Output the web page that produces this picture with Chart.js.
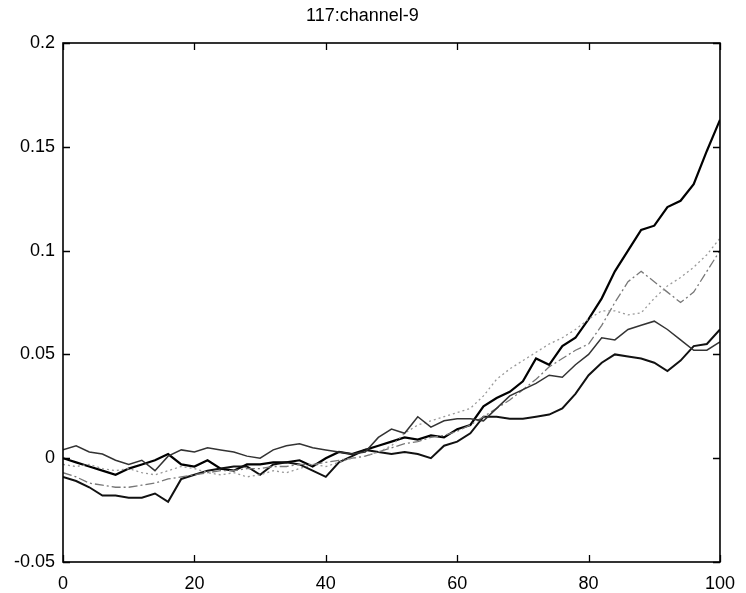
<!DOCTYPE html>
<html>
<head>
<meta charset="utf-8">
<script src="https://cdn.jsdelivr.net/npm/chart.js@4/dist/chart.umd.min.js"></script>
<style>
  html, body { margin: 0; padding: 0; background: #fff; }
  #c { display: block; }
</style>
</head>
<body>
<canvas id="c" width="746" height="593"></canvas>
<script>
const chartTitle = "117:channel-9";
const xValues = [0,2,4,6,8,10,12,14,16,18,20,22,24,26,28,30,32,34,36,38,40,42,44,46,48,50,52,54,56,58,60,62,64,66,68,70,72,74,76,78,80,82,84,86,88,90,92,94,96,98,100];
const xTickValues = [0, 20, 40, 60, 80, 100];
const yTickValues = [-0.05, 0, 0.05, 0.1, 0.15, 0.2];
const yTickLabels = ["-0.05", "0", "0.05", "0.1", "0.15", "0.2"];

// thick solid black (ends highest)
const seriesA = [0.000,-0.002,-0.004,-0.006,-0.008,-0.005,-0.003,-0.001,0.002,-0.003,-0.004,-0.001,-0.005,-0.006,-0.003,-0.003,-0.002,-0.002,-0.001,-0.004,0.000,0.003,0.002,0.004,0.006,0.008,0.010,0.009,0.011,0.010,0.014,0.016,0.025,0.029,0.032,0.037,0.048,0.045,0.054,0.058,0.067,0.077,0.090,0.100,0.110,0.112,0.121,0.124,0.132,0.148,0.163];
// dash-dot gray (peak near 88)
const seriesB = [-0.007,-0.009,-0.012,-0.013,-0.014,-0.014,-0.013,-0.012,-0.010,-0.009,-0.008,-0.007,-0.006,-0.006,-0.005,-0.005,-0.004,-0.004,-0.003,-0.003,-0.002,-0.001,0.000,0.001,0.003,0.005,0.007,0.008,0.010,0.011,0.013,0.016,0.020,0.024,0.028,0.033,0.038,0.044,0.048,0.052,0.055,0.064,0.075,0.085,0.090,0.085,0.080,0.075,0.080,0.090,0.100];
// dotted light gray
const seriesC = [-0.003,-0.004,-0.003,-0.005,-0.006,-0.005,-0.007,-0.008,-0.006,-0.004,-0.005,-0.007,-0.008,-0.007,-0.009,-0.008,-0.006,-0.007,-0.005,-0.003,-0.004,-0.002,0.000,0.001,0.003,0.006,0.012,0.016,0.018,0.020,0.022,0.024,0.030,0.038,0.043,0.047,0.051,0.055,0.058,0.062,0.067,0.071,0.071,0.069,0.070,0.077,0.083,0.087,0.092,0.098,0.106];
// solid black, lowest at left
const seriesD = [-0.009,-0.011,-0.014,-0.018,-0.018,-0.019,-0.019,-0.017,-0.021,-0.010,-0.008,-0.006,-0.005,-0.004,-0.004,-0.008,-0.003,-0.002,-0.003,-0.006,-0.009,-0.002,0.001,0.004,0.003,0.002,0.003,0.002,0.000,0.006,0.008,0.012,0.020,0.020,0.019,0.019,0.020,0.021,0.024,0.031,0.040,0.046,0.050,0.049,0.048,0.046,0.042,0.047,0.054,0.055,0.062];
// solid dark gray, highest at left
const seriesE = [0.004,0.006,0.003,0.002,-0.001,-0.003,-0.001,-0.006,0.001,0.004,0.003,0.005,0.004,0.003,0.001,0.000,0.004,0.006,0.007,0.005,0.004,0.003,0.002,0.003,0.010,0.014,0.012,0.020,0.015,0.018,0.019,0.019,0.018,0.024,0.030,0.033,0.036,0.040,0.039,0.045,0.050,0.058,0.057,0.062,0.064,0.066,0.062,0.057,0.052,0.052,0.056];

function pts(arr) { return arr.map((v, i) => ({ x: xValues[i], y: v })); }

const frameAndTicks = {
  id: 'frameAndTicks',
  afterDraw(chart) {
    const ctx = chart.ctx;
    const a = chart.chartArea;
    const xs = chart.scales.x, ys = chart.scales.y;
    ctx.save();
    ctx.strokeStyle = '#000';
    ctx.lineWidth = 1.6;
    ctx.strokeRect(a.left, a.top, a.right - a.left, a.bottom - a.top);
    ctx.lineWidth = 1.3;
    const L = 7;
    ctx.beginPath();
    xTickValues.forEach(v => {
      const px = Math.round(xs.getPixelForValue(v)) + 0.5;
      ctx.moveTo(px, a.bottom); ctx.lineTo(px, a.bottom - L);
      ctx.moveTo(px, a.top); ctx.lineTo(px, a.top + L);
    });
    yTickValues.forEach(v => {
      const py = Math.round(ys.getPixelForValue(v)) + 0.5;
      ctx.moveTo(a.left, py); ctx.lineTo(a.left + L, py);
      ctx.moveTo(a.right, py); ctx.lineTo(a.right - L, py);
    });
    ctx.stroke();
    ctx.restore();
  }
};

const font = { family: "'Liberation Sans', Arial, sans-serif", size: 18 };

new Chart(document.getElementById('c'), {
  type: 'line',
  data: {
    datasets: [
      { label: 'E', data: pts(seriesE), borderColor: '#333', borderWidth: 1.5 },
      { label: 'C', data: pts(seriesC), borderColor: '#999', borderWidth: 1.3, borderDash: [2, 3] },
      { label: 'B', data: pts(seriesB), borderColor: '#777', borderWidth: 1.3, borderDash: [9, 3, 2, 3] },
      { label: 'D', data: pts(seriesD), borderColor: '#111', borderWidth: 2 },
      { label: 'A', data: pts(seriesA), borderColor: '#000', borderWidth: 2.2 }
    ]
  },
  options: {
    responsive: false,
    animation: false,
    parsing: true,
    elements: { point: { radius: 0 }, line: { tension: 0, fill: false } },
    layout: { padding: { left: 0, right: 21, top: 0, bottom: 0 } },
    plugins: {
      legend: { display: false },
      tooltip: { enabled: false },
      title: {
        display: true,
        text: chartTitle,
        color: '#000',
        font: { family: font.family, size: 18, weight: 'normal' },
        padding: { top: 5, bottom: 16.4 }
      }
    },
    scales: {
      x: {
        type: 'linear',
        min: 0, max: 100,
        afterBuildTicks(scale) { scale.ticks = xTickValues.map(v => ({ value: v })); },
        afterFit(scale) { scale.height = 31; },
        grid: { display: false, drawTicks: false },
        border: { display: false },
        ticks: { color: '#000', font: font, padding: 11, maxRotation: 0, autoSkip: false,
                 callback: (v) => String(v) }
      },
      y: {
        type: 'linear',
        min: -0.05, max: 0.2,
        afterBuildTicks(scale) { scale.ticks = yTickValues.map(v => ({ value: v })); },
        afterFit(scale) { scale.width = 63; },
        grid: { display: false, drawTicks: false },
        border: { display: false },
        ticks: { color: '#000', font: font, padding: 8, autoSkip: false,
                 callback: (v) => { const i = yTickValues.findIndex(t => Math.abs(t - v) < 1e-9); return i >= 0 ? yTickLabels[i] : ''; } }
      }
    }
  },
  plugins: [frameAndTicks]
});
</script>
</body>
</html>
